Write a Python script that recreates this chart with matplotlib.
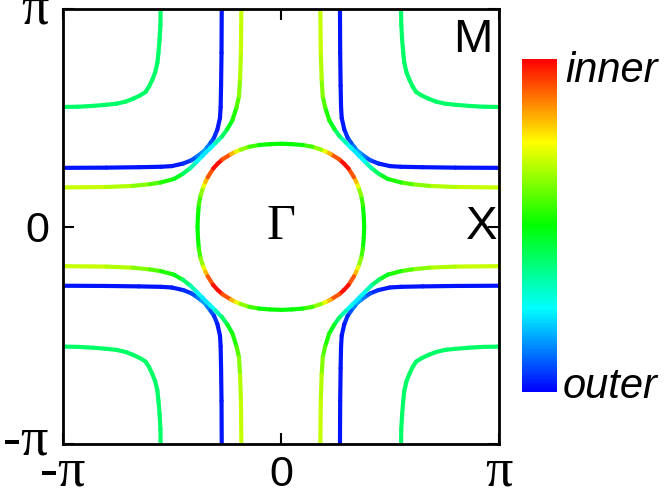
import numpy as np
import matplotlib.pyplot as plt
from matplotlib.collections import LineCollection
from matplotlib.colors import LinearSegmentedColormap, Normalize
from matplotlib.cm import ScalarMappable
from matplotlib.transforms import ScaledTranslation

# Fermi surface curves in the upper-left quadrant, in units of pi.
# The other three quadrants are mirror images.

# pocket around M (corner)
m_kx = [-1.000, -0.930, -0.860, -0.800, -0.753, -0.710, -0.677, -0.645, -0.620,
        -0.604, -0.589, -0.576, -0.566, -0.561, -0.556, -0.552, -0.551]
m_ky = [0.551, 0.552, 0.556, 0.561, 0.566, 0.576, 0.589, 0.604, 0.620,
        0.645, 0.677, 0.710, 0.753, 0.800, 0.860, 0.930, 1.000]
m_w = [0.40] * 17

# outer open sheet (blue)
b_kx = [-1.000, -0.800, -0.650, -0.550, -0.500, -0.447, -0.410, -0.386, -0.365, -0.350,
        -0.338, -0.322, -0.306, -0.291, -0.279, -0.276, -0.274, -0.272, -0.271]
b_ky = [0.271, 0.272, 0.274, 0.276, 0.279, 0.291, 0.306, 0.322, 0.338, 0.350,
        0.365, 0.386, 0.410, 0.447, 0.500, 0.550, 0.650, 0.800, 1.000]
b_w = [0.02, 0.02, 0.02, 0.02, 0.02, 0.03, 0.06, 0.10, 0.14, 0.16,
       0.14, 0.10, 0.06, 0.03, 0.02, 0.02, 0.02, 0.02, 0.02]

# inner open sheet (yellow-green)
y_kx = [-1.000, -0.800, -0.680, -0.600, -0.550, -0.490, -0.450, -0.415, -0.386, -0.360, -0.343,
        -0.325, -0.299, -0.270, -0.245, -0.222, -0.203, -0.192, -0.187, -0.183, -0.181]
y_ky = [0.181, 0.183, 0.188, 0.196, 0.204, 0.220, 0.243, 0.270, 0.299, 0.325, 0.343,
        0.360, 0.386, 0.415, 0.450, 0.490, 0.550, 0.600, 0.680, 0.800, 1.000]
y_w = [0.70, 0.69, 0.66, 0.60, 0.56, 0.50, 0.44, 0.36, 0.29, 0.24, 0.22,
       0.24, 0.29, 0.36, 0.44, 0.50, 0.56, 0.60, 0.66, 0.69, 0.70]

# pocket around Gamma (quarter)
g_kx = [-0.382, -0.380, -0.376, -0.368, -0.355, -0.346, -0.335, -0.310, -0.290,
        -0.268, -0.228, -0.206, -0.184, -0.145, -0.100, -0.050, 0.000]
g_ky = [0.000, 0.050, 0.100, 0.145, 0.184, 0.206, 0.228, 0.268, 0.290,
        0.310, 0.335, 0.346, 0.355, 0.368, 0.376, 0.380, 0.382]
g_w = [0.50, 0.50, 0.52, 0.60, 0.68, 0.78, 0.86, 0.97, 1.00,
       0.97, 0.86, 0.78, 0.68, 0.60, 0.52, 0.50, 0.50]

cmap = LinearSegmentedColormap.from_list(
    "io", ["#0000ff", "#00ffff", "#00ff00", "#ffff00", "#ff0000"])
norm = Normalize(0, 1)


def draw_curve(ax, kx, ky, w):
    kx = np.array(kx) * np.pi
    ky = np.array(ky) * np.pi
    w = np.array(w)
    for sx in (1, -1):
        for sy in (1, -1):
            pts = np.column_stack([sx * kx, sy * ky])
            segs = np.stack([pts[:-1], pts[1:]], axis=1)
            lc = LineCollection(segs, cmap=cmap, norm=norm, linewidths=3,
                                capstyle='round', joinstyle='round')
            lc.set_array((w[:-1] + w[1:]) / 2)
            ax.add_collection(lc)


fig = plt.figure(figsize=(6.69, 4.92), dpi=100)
ax = fig.add_axes([62.7 / 669, 1 - 444.3 / 492, 436.3 / 669, 435 / 492])

for kx, ky, w in [(m_kx, m_ky, m_w), (b_kx, b_ky, b_w), (y_kx, y_ky, y_w), (g_kx, g_ky, g_w)]:
    draw_curve(ax, kx, ky, w)

ax.set_xlim(-np.pi, np.pi)
ax.set_ylim(-np.pi, np.pi)
for s in ax.spines.values():
    s.set_linewidth(2)

ticks = [-np.pi, 0, np.pi]
labels = ["-π", "0", "π"]
ax.set_xticks(ticks)
ax.set_yticks(ticks)
ax.set_xticklabels(labels)
ax.set_yticklabels(labels)
ax.tick_params(direction='in', length=8, width=1.5, top=True, right=True)
ax.tick_params(axis='y', pad=10)
ax.tick_params(axis='x', pad=30)
for lab in ax.get_xticklabels() + ax.get_yticklabels():
    if lab.get_text() == "0":
        lab.set_fontfamily("Liberation Sans")
        lab.set_fontsize(31)
    else:
        lab.set_fontfamily("Liberation Serif")
        lab.set_fontsize(39)
for lab in ax.get_xticklabels():
    lab.set_verticalalignment("baseline")

# nudge the y tick labels with pi up a little
ylabs = ax.get_yticklabels()
for lab, dy in zip(ylabs, [9, 0, 5]):
    lab.set_transform(lab.get_transform() + ScaledTranslation(0, dy / 100, fig.dpi_scale_trans))

ax.text(0.969 * np.pi, 0.958 * np.pi, "M", fontsize=34, family="Liberation Sans",
        ha="right", va="top")
ax.text(0.995 * np.pi, 0.0, "X", fontsize=34, family="Liberation Sans",
        ha="right", va="center")
ax.text(0.0, 0.0, "Γ", fontsize=36, family="Liberation Serif",
        ha="center", va="center")

cax = fig.add_axes([522 / 669, 1 - 392 / 492, 35 / 669, 333 / 492])
cb = fig.colorbar(ScalarMappable(norm=norm, cmap=cmap), cax=cax)
cb.set_ticks([])
cb.outline.set_visible(False)

fig.text(565 / 669, 1 - 82 / 492, "inner", fontsize=30, style="italic",
         family="Liberation Sans", va="baseline", ha="left")
fig.text(563 / 669, 1 - 398 / 492, "outer", fontsize=30, style="italic",
         family="Liberation Sans", va="baseline", ha="left")

fig.savefig("out.png", dpi=100)
